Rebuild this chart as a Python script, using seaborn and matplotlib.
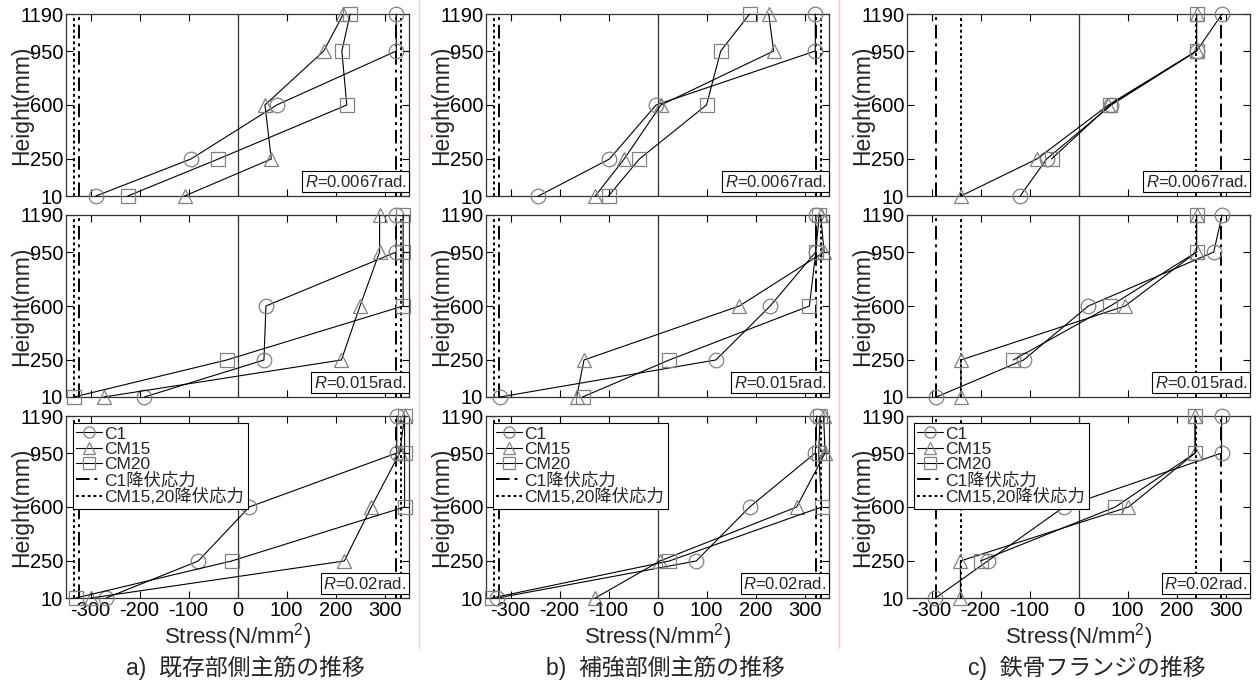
import numpy as np
import pandas as pd
import matplotlib
matplotlib.use('Agg')
import matplotlib.pyplot as plt
from matplotlib.lines import Line2D
import seaborn as sns

# gauge heights (mm)
heights = [10, 250, 600, 950, 1190]
specimens = ['C1', 'CM15', 'CM20']
drifts = ['0.0067', '0.015', '0.02']

# a) existing-side main bars, stress at each height (N/mm2)
a_0067 = {'C1': [-289, -95, 80, 324, 324],
          'CM15': [-108, 69, 56, 176, 216],
          'CM20': [-224, -39, 223, 213, 230]}
a_015 = {'C1': [-190, 54, 58, 324, 324],
         'CM15': [-273, 212, 250, 290, 290],
         'CM20': [-334, -22, 338, 338, 338]}
a_02 = {'C1': [-268, -80, 24, 325, 325],
        'CM15': [-299, 218, 273, 331, 341],
        'CM20': [-330, -12, 341, 341, 341]}

# b) strengthened-side main bars
b_0067 = {'C1': [-243, -98, -3, 322, 322],
          'CM15': [-127, -68, 7, 237, 227],
          'CM20': [-100, -37, 100, 129, 188]}
b_015 = {'C1': [-322, 119, 230, 323, 323],
         'CM15': [-165, -150, 167, 340, 333],
         'CM20': [-153, 24, 310, 323, 330]}
b_02 = {'C1': [-327, 79, 188, 322, 325],
        'CM15': [-127, 5, 284, 342, 339],
        'CM20': [-338, 24, 335, 329, 332]}

# c) steel flange (CM20 has no reading at 10 mm)
c_0067 = {'C1': [-119, -65, 67, 241, 293],
          'CM15': [-240, -85, 61, 241, 241],
          'CM20': [np.nan, -55, 64, 241, 241]}
c_015 = {'C1': [-290, -112, 20, 276, 293],
         'CM15': [-240, -240, 95, 241, 241],
         'CM20': [np.nan, -133, 65, 241, 241]}
c_02 = {'C1': [-292, -185, -30, 292, 292],
        'CM15': [-241, -241, 102, 238, 238],
        'CM20': [np.nan, -200, 75, 238, 238]}

# yield stresses: (C1, CM15/20)
yield_bar = [323, 334]
yield_flange = [290, 240]

captions = ['a)  既存部側主筋の推移', 'b)  補強部側主筋の推移', 'c)  鉄骨フランジの推移']
panels = [[a_0067, a_015, a_02], [b_0067, b_015, b_02], [c_0067, c_015, c_02]]
yields = [yield_bar, yield_bar, yield_flange]

sns.set_style('ticks')
plt.rcParams['font.family'] = ['Liberation Sans', 'Noto Sans CJK JP']
plt.rcParams['mathtext.fontset'] = 'custom'
plt.rcParams['mathtext.rm'] = 'Liberation Sans'
plt.rcParams['mathtext.it'] = 'Liberation Sans:italic'
plt.rcParams['axes.unicode_minus'] = False

W, H = 1258, 686
fig = plt.figure(figsize=(W / 100, H / 100), dpi=100)

col_left = [66, 486, 907]
col_w = 343
row_top = [14, 215, 416]
row_h = 182

markers = {'C1': 'o', 'CM15': '^', 'CM20': 's'}
palette = {'C1': 'black', 'CM15': 'black', 'CM20': 'black'}
mark_gray = '#808080'
dashdot = (0, (7, 2.5, 1.5, 2.5))
dotted = (0, (1.5, 1.5))

for ci in range(3):
    for ri in range(3):
        left = col_left[ci] / W
        bottom = 1 - (row_top[ri] + row_h) / H
        ax = fig.add_axes([left, bottom, col_w / W, row_h / H])
        data = panels[ci][ri]
        df = pd.DataFrame({
            'Stress': np.concatenate([data[s] for s in specimens]),
            'Height': heights * 3,
            'Specimen': np.repeat(specimens, len(heights)),
        }).dropna()

        y_c1, y_cm = yields[ci]
        for v in (-y_c1, y_c1):
            ax.axvline(v, color='black', lw=1.4, ls=dashdot, zorder=1)
        for v in (-y_cm, y_cm):
            ax.axvline(v, color='black', lw=1.4, ls=dotted, zorder=1)
        ax.axvline(0, color='#333333', lw=0.9, zorder=1)

        sns.lineplot(data=df, x='Stress', y='Height', hue='Specimen', style='Specimen',
                     markers=markers, dashes=False, palette=palette, sort=False,
                     estimator=None, orient='y', legend=False, ax=ax,
                     lw=0.8, ms=10.5, mfc='none', mec=mark_gray, mew=0.9,
                     clip_on=False, zorder=3)

        ax.set_xlim(-350, 350)
        ax.set_ylim(10, 1190)
        ax.set_yticks(heights)
        ax.set_xticks(range(-300, 301, 100))
        ax.tick_params(direction='in', length=5, width=0.8, top=True, right=True,
                       labelsize=14.5, pad=2, colors='black')
        for sp in ax.spines.values():
            sp.set_linewidth(0.9)
            sp.set_color('#333333')
        ax.set_ylabel('Height(mm)', fontsize=16.5)
        ax.yaxis.set_label_coords(-33 / col_w, 0.5)
        if ri == 2:
            ax.set_xlabel('Stress(N/mm$^2$)', fontsize=16, labelpad=1)
        else:
            ax.set_xlabel('')
            ax.set_xticklabels([])

        ax.text(0.992, 0.035, '$R$=' + drifts[ri] + 'rad.', transform=ax.transAxes,
                ha='right', va='bottom', fontsize=12, zorder=5,
                bbox=dict(boxstyle='square,pad=0.15', facecolor='white',
                          edgecolor='black', linewidth=0.8))

        if ri == 2:
            handles = [Line2D([], [], color='black', lw=0.8, marker=markers[s], ms=8,
                              mfc='none', mec=mark_gray, mew=0.9) for s in specimens]
            handles += [Line2D([], [], color='black', lw=1.4, ls=dashdot),
                        Line2D([], [], color='black', lw=1.4, ls=dotted)]
            labels = specimens + ['C1降伏応力', 'CM15,20降伏応力']
            leg = ax.legend(handles, labels, loc='upper left', fontsize=12.5,
                            frameon=True, fancybox=False, framealpha=1,
                            edgecolor='black', borderpad=0.2, labelspacing=0.0,
                            handlelength=1.45, handletextpad=0.15, borderaxespad=0.4)
            leg.get_frame().set_linewidth(0.8)
            leg.set_zorder(6)

    cx = (col_left[ci] + col_w / 2 + 8) / W
    fig.text(cx, 1 - 668 / H, captions[ci], ha='center', va='center', fontsize=16.5)

# faint separators between the three columns
for xs in (419, 839):
    fig.add_artist(Line2D([xs / W, xs / W], [1 - 648 / H, 1], color='#f6cccc', lw=1))

fig.savefig('out.png', dpi=100)
